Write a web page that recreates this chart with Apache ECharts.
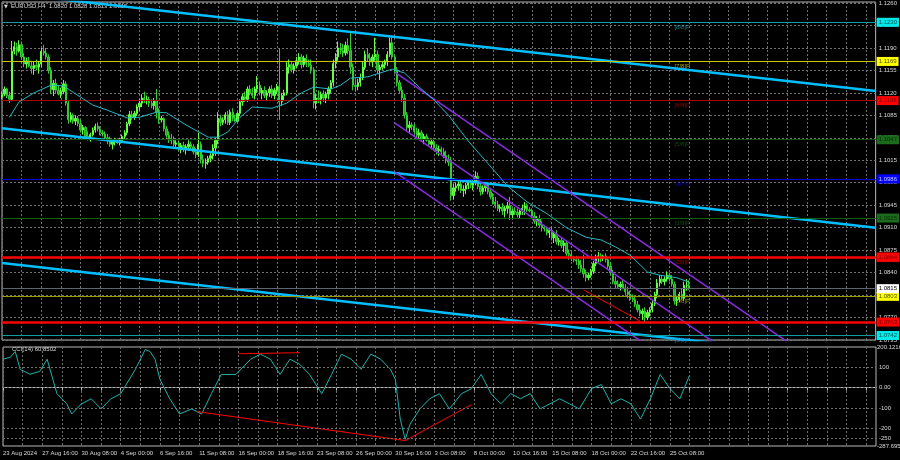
<!DOCTYPE html>
<html><head><meta charset="utf-8">
<script src="https://cdn.jsdelivr.net/npm/echarts@6/dist/echarts.min.js"></script>
<style>html,body{margin:0;padding:0;background:#000;}#c{width:900px;height:460px;}</style>
</head><body><div id="c"></div>
<script>
// ---- DATA ----
const tickLabels = ['23 Aug 2024','27 Aug 16:00','30 Aug 08:00','4 Sep 00:00','6 Sep 16:00','11 Sep 08:00','16 Sep 00:00','18 Sep 16:00','23 Sep 08:00','26 Sep 00:00','30 Sep 16:00','3 Oct 08:00','8 Oct 00:00','10 Oct 16:00','15 Oct 08:00','18 Oct 00:00','22 Oct 16:00','25 Oct 08:00'];
const slotCount = 357;
const openP = [
1.1113,1.1118,1.1126,1.1116,1.1110,1.1185,
1.1192,1.1185,1.1195,1.1176,1.1165,1.1170,
1.1162,1.1158,1.1163,1.1160,1.1165,1.1185,
1.1182,1.1176,1.1155,1.1125,1.1135,1.1124,
1.1118,1.1122,1.1134,1.1104,1.1078,1.1085,
1.1076,1.1080,1.1072,1.1062,1.1066,1.1052,
1.1048,1.1055,1.1062,1.1068,1.1064,1.1058,
1.1056,1.1050,1.1046,1.1040,1.1044,1.1045,
1.1042,1.1046,1.1052,1.1058,1.1072,1.1086,
1.1082,1.1088,1.1098,1.1104,1.1112,1.1108,
1.1110,1.1104,1.1100,1.1108,1.1090,1.1078,
1.1080,1.1064,1.1054,1.1048,1.1046,1.1040,
1.1042,1.1034,1.1038,1.1032,1.1036,1.1040,
1.1036,1.1028,1.1024,1.1040,1.1016,1.1010,
1.1012,1.1018,1.1022,1.1034,1.1046,1.1080,
1.1074,1.1078,1.1086,1.1074,1.1090,1.1080,
1.1076,1.1088,1.1106,1.1114,1.1110,1.1126,
1.1120,1.1116,1.1126,1.1132,1.1120,1.1124,
1.1116,1.1120,1.1126,1.1116,1.1124,1.1130,
1.1106,1.1116,1.1120,1.1160,1.1164,1.1156,
1.1162,1.1170,1.1176,1.1164,1.1174,1.1166,
1.1163,1.1156,1.1104,1.1112,1.1110,1.1118,
1.1112,1.1118,1.1126,1.1136,1.1166,1.1176,
1.1190,1.1186,1.1182,1.1194,1.1186,1.1160,
1.1132,1.1130,1.1136,1.1144,1.1160,1.1180,
1.1174,1.1168,1.1176,1.1180,1.1156,1.1160,
1.1164,1.1168,1.1180,1.1198,1.1176,1.1156,
1.1136,1.1124,1.1112,1.1086,1.1066,1.1070,
1.1068,1.1060,1.1054,1.1058,1.1048,1.1052,
1.1046,1.1040,1.1044,1.1034,1.1030,1.1032,
1.1028,1.1022,1.1016,1.1012,1.0960,1.0972,
1.0975,1.0978,1.0968,1.0970,1.0976,1.0980,
1.0976,1.0980,1.0990,1.0974,1.0966,1.0972,
1.0976,1.0966,1.0958,1.0950,1.0946,1.0940,
1.0942,1.0936,1.0940,1.0944,1.0930,1.0936,
1.0934,1.0930,1.0936,1.0940,1.0944,1.0938,
1.0936,1.0928,1.0920,1.0924,1.0914,1.0910,
1.0908,1.0902,1.0906,1.0894,1.0900,1.0888,
1.0890,1.0882,1.0886,1.0870,1.0868,1.0862,
1.0860,1.0858,1.0852,1.0846,1.0838,1.0832,
1.0836,1.0842,1.0854,1.0864,1.0866,1.0862,
1.0866,1.0860,1.0850,1.0840,1.0826,1.0822,
1.0818,1.0822,1.0816,1.0810,1.0806,1.0800,
1.0798,1.0790,1.0782,1.0776,1.0780,1.0770,
1.0778,1.0782,1.0792,1.0806,1.0824,1.0830,
1.0826,1.0830,1.0836,1.0830,1.0822,1.0796,
1.0798,1.0806,1.0800,1.0820,1.0820
];
const highP = [
1.1122,1.1130,1.1128,1.1122,1.1201,1.1200,
1.1198,1.1202,1.1200,1.1182,1.1175,1.1176,
1.1170,1.1168,1.1172,1.1168,1.1190,1.1195,
1.1190,1.1180,1.1160,1.1140,1.1142,1.1132,
1.1128,1.1140,1.1138,1.1108,1.1090,1.1088,
1.1085,1.1084,1.1078,1.1070,1.1068,1.1060,
1.1058,1.1066,1.1072,1.1074,1.1068,1.1062,
1.1060,1.1056,1.1052,1.1048,1.1050,1.1049,
1.1050,1.1055,1.1062,1.1075,1.1092,1.1092,
1.1092,1.1102,1.1110,1.1118,1.1122,1.1116,
1.1114,1.1110,1.1112,1.1126,1.1096,1.1084,
1.1082,1.1068,1.1060,1.1056,1.1052,1.1046,
1.1046,1.1042,1.1044,1.1040,1.1046,1.1044,
1.1040,1.1034,1.1058,1.1044,1.1024,1.1018,
1.1022,1.1026,1.1040,1.1050,1.1090,1.1086,
1.1082,1.1090,1.1092,1.1094,1.1096,1.1086,
1.1090,1.1110,1.1118,1.1122,1.1130,1.1132,
1.1128,1.1130,1.1146,1.1138,1.1128,1.1130,
1.1124,1.1130,1.1132,1.1128,1.1134,1.1189,
1.1120,1.1125,1.1168,1.1172,1.1170,1.1166,
1.1176,1.1182,1.1180,1.1178,1.1180,1.1172,
1.1172,1.1160,1.1118,1.1124,1.1122,1.1124,
1.1122,1.1130,1.1140,1.1172,1.1182,1.1200,
1.1198,1.1196,1.1200,1.1205,1.1214,1.1166,
1.1140,1.1142,1.1150,1.1168,1.1186,1.1190,
1.1182,1.1180,1.1206,1.1186,1.1164,1.1168,
1.1172,1.1185,1.1206,1.1209,1.1180,1.1160,
1.1140,1.1130,1.1118,1.1090,1.1076,1.1074,
1.1072,1.1066,1.1064,1.1062,1.1056,1.1056,
1.1050,1.1048,1.1050,1.1040,1.1038,1.1036,
1.1034,1.1030,1.1024,1.1020,1.0978,1.0980,
1.0982,1.0984,1.0976,1.0980,1.0984,1.0986,
1.0984,1.0998,1.0996,1.0980,1.0976,1.0980,
1.0980,1.0972,1.0964,1.0958,1.0952,1.0946,
1.0948,1.0944,1.0950,1.0958,1.0940,1.0942,
1.0940,1.0938,1.0946,1.0950,1.0948,1.0942,
1.0940,1.0934,1.0928,1.0930,1.0920,1.0914,
1.0912,1.0910,1.0912,1.0904,1.0906,1.0894,
1.0894,1.0890,1.0890,1.0876,1.0874,1.0866,
1.0866,1.0864,1.0860,1.0868,1.0844,1.0840,
1.0846,1.0858,1.0868,1.0872,1.0870,1.0868,
1.0870,1.0864,1.0856,1.0844,1.0834,1.0828,
1.0826,1.0830,1.0822,1.0818,1.0812,1.0806,
1.0802,1.0796,1.0790,1.0784,1.0786,1.0782,
1.0786,1.0796,1.0810,1.0830,1.0836,1.0836,
1.0834,1.0842,1.0840,1.0836,1.0826,1.0804,
1.0810,1.0816,1.0826,1.0830,1.0828
];
const lowP = [
1.1110,1.1115,1.1112,1.1104,1.1107,1.1180,
1.1178,1.1183,1.1172,1.1160,1.1158,1.1160,
1.1150,1.1148,1.1155,1.1150,1.1160,1.1178,
1.1172,1.1150,1.1118,1.1115,1.1120,1.1116,
1.1112,1.1118,1.1100,1.1072,1.1074,1.1072,
1.1070,1.1068,1.1058,1.1055,1.1048,1.1046,
1.1044,1.1052,1.1058,1.1060,1.1054,1.1052,
1.1046,1.1040,1.1036,1.1032,1.1038,1.1040,
1.1038,1.1042,1.1048,1.1054,1.1068,1.1078,
1.1078,1.1084,1.1092,1.1098,1.1104,1.1102,
1.1098,1.1096,1.1094,1.1080,1.1072,1.1074,
1.1060,1.1050,1.1042,1.1040,1.1036,1.1036,
1.1030,1.1026,1.1028,1.1024,1.1030,1.1032,
1.1024,1.1018,1.1020,1.1010,1.1004,1.1002,
1.1008,1.1012,1.1016,1.1022,1.1040,1.1068,
1.1070,1.1072,1.1070,1.1070,1.1076,1.1074,
1.1074,1.1084,1.1100,1.1106,1.1106,1.1116,
1.1112,1.1110,1.1120,1.1116,1.1110,1.1112,
1.1108,1.1114,1.1112,1.1110,1.1118,1.1078,
1.1100,1.1108,1.1116,1.1150,1.1152,1.1150,
1.1158,1.1164,1.1158,1.1160,1.1160,1.1160,
1.1150,1.1096,1.1094,1.1104,1.1102,1.1106,
1.1104,1.1110,1.1120,1.1130,1.1158,1.1170,
1.1180,1.1176,1.1178,1.1180,1.1150,1.1124,
1.1122,1.1124,1.1130,1.1140,1.1156,1.1168,
1.1162,1.1160,1.1170,1.1150,1.1140,1.1156,
1.1158,1.1162,1.1176,1.1172,1.1150,1.1130,
1.1120,1.1106,1.1080,1.1060,1.1058,1.1062,
1.1056,1.1050,1.1048,1.1044,1.1040,1.1044,
1.1036,1.1032,1.1030,1.1024,1.1022,1.1024,
1.1018,1.1010,1.1006,1.0952,1.0954,1.0966,
1.0968,1.0964,1.0958,1.0962,1.0970,1.0972,
1.0968,1.0976,1.0970,1.0960,1.0962,1.0966,
1.0962,1.0954,1.0946,1.0940,1.0936,1.0934,
1.0930,1.0926,1.0932,1.0922,1.0924,1.0930,
1.0926,1.0924,1.0930,1.0930,1.0934,1.0934,
1.0924,1.0916,1.0912,1.0910,1.0904,1.0904,
1.0898,1.0894,1.0890,1.0886,1.0884,1.0882,
1.0878,1.0872,1.0866,1.0860,1.0858,1.0856,
1.0852,1.0846,1.0840,1.0832,1.0826,1.0828,
1.0832,1.0838,1.0850,1.0856,1.0856,1.0858,
1.0856,1.0846,1.0836,1.0822,1.0816,1.0816,
1.0812,1.0814,1.0804,1.0800,1.0796,1.0794,
1.0786,1.0778,1.0772,1.0766,1.0762,1.0766,
1.0772,1.0778,1.0788,1.0800,1.0818,1.0822,
1.0820,1.0826,1.0826,1.0818,1.0790,1.0788,
1.0794,1.0798,1.0796,1.0812,1.0813
];
const closeP = [
1.1118,1.1126,1.1116,1.1110,1.1185,1.1192,
1.1185,1.1195,1.1176,1.1165,1.1170,1.1162,
1.1158,1.1163,1.1160,1.1165,1.1185,1.1182,
1.1176,1.1155,1.1125,1.1135,1.1124,1.1118,
1.1122,1.1134,1.1104,1.1078,1.1085,1.1076,
1.1080,1.1072,1.1062,1.1066,1.1052,1.1048,
1.1055,1.1062,1.1068,1.1064,1.1058,1.1056,
1.1050,1.1046,1.1040,1.1044,1.1045,1.1042,
1.1046,1.1052,1.1058,1.1072,1.1086,1.1082,
1.1088,1.1098,1.1104,1.1112,1.1108,1.1110,
1.1104,1.1100,1.1108,1.1090,1.1078,1.1080,
1.1064,1.1054,1.1048,1.1046,1.1040,1.1042,
1.1034,1.1038,1.1032,1.1036,1.1040,1.1036,
1.1028,1.1024,1.1040,1.1016,1.1010,1.1012,
1.1018,1.1022,1.1034,1.1046,1.1080,1.1074,
1.1078,1.1086,1.1074,1.1090,1.1080,1.1076,
1.1088,1.1106,1.1114,1.1110,1.1126,1.1120,
1.1116,1.1126,1.1132,1.1120,1.1124,1.1116,
1.1120,1.1126,1.1116,1.1124,1.1130,1.1106,
1.1116,1.1120,1.1160,1.1164,1.1156,1.1162,
1.1170,1.1176,1.1164,1.1174,1.1166,1.1163,
1.1156,1.1104,1.1112,1.1110,1.1118,1.1112,
1.1118,1.1126,1.1136,1.1166,1.1176,1.1190,
1.1186,1.1182,1.1194,1.1186,1.1160,1.1132,
1.1130,1.1136,1.1144,1.1160,1.1180,1.1174,
1.1168,1.1176,1.1180,1.1156,1.1160,1.1164,
1.1168,1.1180,1.1198,1.1176,1.1156,1.1136,
1.1124,1.1112,1.1086,1.1066,1.1070,1.1068,
1.1060,1.1054,1.1058,1.1048,1.1052,1.1046,
1.1040,1.1044,1.1034,1.1030,1.1032,1.1028,
1.1022,1.1016,1.1012,1.0960,1.0972,1.0975,
1.0978,1.0968,1.0970,1.0976,1.0980,1.0976,
1.0980,1.0990,1.0974,1.0966,1.0972,1.0976,
1.0966,1.0958,1.0950,1.0946,1.0940,1.0942,
1.0936,1.0940,1.0944,1.0930,1.0936,1.0934,
1.0930,1.0936,1.0940,1.0944,1.0938,1.0936,
1.0928,1.0920,1.0924,1.0914,1.0910,1.0908,
1.0902,1.0906,1.0894,1.0900,1.0888,1.0890,
1.0882,1.0886,1.0870,1.0868,1.0862,1.0860,
1.0858,1.0852,1.0846,1.0838,1.0832,1.0836,
1.0842,1.0854,1.0864,1.0866,1.0862,1.0866,
1.0860,1.0850,1.0840,1.0826,1.0822,1.0818,
1.0822,1.0816,1.0810,1.0806,1.0800,1.0798,
1.0790,1.0782,1.0776,1.0780,1.0770,1.0778,
1.0782,1.0792,1.0806,1.0824,1.0830,1.0826,
1.0830,1.0836,1.0830,1.0822,1.0796,1.0798,
1.0806,1.0800,1.0820,1.0820,1.0815
];
// moving average: [bar index, price]
const maPoints = [[3,1.1082],[7,1.1106],[13,1.1120],[20,1.1132],[25,1.1131],[29,1.1121],[37,1.1101],[43,1.1093],[51,1.1081],[56,1.1082],[63,1.1090],[67,1.1089],[75,1.1070],[84,1.1051],[88,1.1051],[92,1.1059],[97,1.1082],[102,1.1098],[110,1.1096],[116,1.1104],[122,1.1120],[127,1.1129],[134,1.1126],[138,1.1132],[142,1.1143],[149,1.1145],[154,1.1151],[159,1.1157],[164,1.1151],[170,1.1129],[176,1.1109],[182,1.1085],[190,1.1045],[198,1.1010],[206,1.0975],[214,1.0950],[222,1.0932],[230,1.0910],[238,1.0895],[244,1.0891],[250,1.0880],[256,1.0867],[263,1.0841],[268,1.0836],[275,1.0832],[280,1.0825]];
// CCI(14): [bar index, value]
const cciPoints = [[0,140],[3,150],[5,178],[7,90],[11,66],[15,80],[18,140],[22,-30],[26,-80],[28,-130],[32,-80],[36,-55],[40,-105],[44,-55],[48,-30],[54,90],[58,188],[60,178],[62,140],[64,40],[68,-55],[72,-130],[77,-105],[81,-130],[85,-30],[89,65],[95,65],[101,140],[105,165],[109,140],[113,65],[117,140],[121,115],[125,65],[130,-30],[134,65],[138,165],[142,140],[146,90],[150,165],[154,140],[158,90],[160,40],[162,-155],[164,-255],[166,-180],[170,-105],[174,-55],[178,-30],[182,-105],[187,-30],[191,-5],[195,65],[199,-30],[203,-80],[207,-30],[211,-55],[215,-30],[219,-105],[223,-80],[227,-55],[231,-80],[235,-105],[240,-5],[244,15],[248,-80],[252,-55],[256,-80],[260,-155],[264,-55],[268,65],[272,-5],[276,-55],[280,60.85]];
const cciLevels = [100, 0, -100, -200, -250];
const cciRange = [-287.695, 200.1216];
// price axis
const priceMin = 1.0735, priceStep = 0.0035, priceTop = 1.12616;
// Murrey levels
const murreyPrices = [1.1230, 1.1169, 1.1108, 1.1047, 1.0986, 1.0925, 1.0864, 1.0803, 1.0742];
const murreyNames = ['[8/8]P','[7/8]P','[6/8]P','[5/8]P','[4/8]P','[3/8]P','[2/8]P','[1/8]P','[0/8]P'];
const murreyTextBar = 274;
const supportPrices = [1.0864, 1.0763];
const bidPrice = 1.0815;
// trend lines: [bar index, price]
const trendTop = [[0,1.1276],[356,1.1123]];
const trendMid = [[0,1.1065],[356,1.0910]];
const trendLow = [[0,1.0855],[356,1.0702]];
const chanUpper = [[160,1.11525],[330,1.07059]];
const chanMiddle = [[160,1.10731],[330,1.06265]];
const chanLower = [[160,1.09968],[330,1.05502]];
const redPriceLine = [[237,1.0813],[260,1.07645]];
const cciRedLines = [[[79,-118],[164,-261]],[[164,-261],[191,-84]],[[96,167],[121,172]]];
const header = 'EURUSD,H4  1.0820 1.0828 1.0813 1.0815';
const cciHeader = 'CCI(14) 60.8502';

// ---- STYLE ----
const FONT = 'Liberation Sans';
const FS = 6;
const TXT = '#d8d8d8';
const GRIDC = '#707070';
const murreyLineColors = ['#139c9c','#c8c800','#b00000','#0f4f0f','#0000d8','#0f5f0f','#b00000','#9a9a00','#139c9c'];
const murreyTextColors = ['#139c9c','#c8c800','#b00000','#145a14','#0000d8','#145a14','#c00000','#a8a800','#1a8cc0'];
const murreyBoxBg = ['#00e8e8','#ffff00','#ff0000','#1c6a1c','#0000ff','#1c6a1c','#ff0000','#ffff00','#00e8e8'];
const murreyBoxFg = ['#005050','#505000','#700000','#0a300a','#c8c8ff','#0a300a','#700000','#505000','#005050'];

const cats = Array.from({length: slotCount}, (_, i) => String(i));
const candleData = closeP.map((c, i) => [openP[i], c, lowP[i], highP[i]]);

function boxLabel(text, bg, fg) {
  return {show: true, position: 'end', distance: 1, formatter: text, backgroundColor: bg, color: fg,
    fontSize: FS, fontFamily: FONT, padding: [1, 2, 0, 2], lineHeight: 8};
}
const priceMarks = [];
murreyPrices.forEach((p, i) => {
  priceMarks.push({yAxis: p, lineStyle: {color: murreyLineColors[i], width: 1, type: 'solid'},
    label: boxLabel(p.toFixed(4), murreyBoxBg[i], murreyBoxFg[i])});
});
priceMarks.push({yAxis: bidPrice, lineStyle: {color: '#5c666c', width: 1, type: 'solid'}, label: boxLabel(bidPrice.toFixed(4), '#ffffff', '#000000')});
supportPrices.forEach(p => {
  priceMarks.push({yAxis: p, lineStyle: {color: '#ff0000', width: 2.5, type: 'solid'}, label: boxLabel(p.toFixed(4), '#ff0000', '#700000')});
});

const cciMarks = cciLevels.map(v => ({yAxis: v, lineStyle: {color: GRIDC, width: 1, type: [2, 2]},
  label: {show: true, position: 'end', distance: 3, formatter: v === 0 ? '0.00' : String(v), color: TXT, fontSize: FS, fontFamily: FONT}}));
cciRange.forEach(v => cciMarks.push({yAxis: v, lineStyle: {color: 'rgba(0,0,0,0)', width: 0},
  label: {show: true, position: 'end', distance: 1, formatter: String(v), color: TXT, fontSize: FS, fontFamily: FONT}}));

function seg(data, color, width, xi, yi) {
  return {type: 'line', data: data, xAxisIndex: xi || 0, yAxisIndex: yi || 0, showSymbol: false, symbol: 'none',
    silent: true, clip: true, lineStyle: {color: color, width: width}, z: 4};
}
function onGrid(v) {
  const k = (v - priceMin) / priceStep;
  return Math.abs(k - Math.round(k)) < 1e-6;
}

const chart = echarts.init(document.getElementById('c'));
const option = {
  backgroundColor: '#000000',
  animation: false,
  grid: [
    {left: 2, top: 2, width: 874, height: 338, show: true, borderColor: '#b8b8b8', borderWidth: 1},
    {left: 2, top: 347, width: 874, height: 99, show: true, borderColor: '#b8b8b8', borderWidth: 1}
  ],
  xAxis: [
    {type: 'category', gridIndex: 0, data: cats, boundaryGap: false,
      axisLine: {show: false}, axisTick: {show: false}, axisLabel: {show: false},
      splitLine: {show: true, interval: (i) => i % 8 === 0, lineStyle: {color: GRIDC, type: [2, 2], width: 1}}},
    {type: 'category', gridIndex: 1, data: cats, boundaryGap: false,
      axisLine: {show: true, lineStyle: {color: '#b8b8b8'}},
      axisTick: {show: true, interval: (i) => i % 8 === 0, length: 3, lineStyle: {color: '#b8b8b8'}},
      axisLabel: {show: true, interval: (i) => i % 16 === 0, align: 'left', margin: 4,
        formatter: (v, i) => (i % 16 === 0 && tickLabels[i / 16]) ? tickLabels[i / 16] : '',
        color: TXT, fontSize: FS, fontFamily: FONT},
      splitLine: {show: true, interval: (i) => i % 8 === 0, lineStyle: {color: GRIDC, type: [2, 2], width: 1}}}
  ],
  yAxis: [
    {type: 'value', gridIndex: 0, position: 'right', min: priceMin, max: priceTop, interval: priceStep,
      axisLine: {show: false}, axisTick: {show: false},
      axisLabel: {color: TXT, fontSize: FS, fontFamily: FONT, margin: 3, formatter: v => onGrid(v) ? v.toFixed(4) : ''},
      splitLine: {show: true, lineStyle: {color: GRIDC, type: [2, 2], width: 1}}},
    {type: 'value', gridIndex: 1, position: 'right', min: cciRange[0], max: cciRange[1],
      axisLine: {show: false}, axisTick: {show: false}, axisLabel: {show: false}, splitLine: {show: false}}
  ],
  series: [
    {type: 'candlestick', xAxisIndex: 0, yAxisIndex: 0, data: candleData, barWidth: 1.8, z: 3,
      itemStyle: {color: '#44f044', color0: '#22a822', borderColor: '#66ff44', borderColor0: '#33cc33', borderWidth: 1}},
    Object.assign(seg(maPoints, '#26b7c4', 1), {z: 5,
      markLine: {silent: true, symbol: ['none', 'none'], animation: false, precision: 5, data: priceMarks}}),
    seg(trendTop, '#00bfff', 2.5), seg(trendMid, '#00bfff', 2.5), seg(trendLow, '#00bfff', 2.5),
    seg(chanUpper, '#8a2be2', 1.5), seg(chanMiddle, '#8a2be2', 1.5), seg(chanLower, '#8a2be2', 1.5),
    seg(redPriceLine, '#ff0000', 1),
    {type: 'scatter', xAxisIndex: 0, yAxisIndex: 0, symbolSize: 0, silent: true, z: 6,
      data: murreyPrices.map((p, i) => ({value: [murreyTextBar, p], name: murreyNames[i],
        label: {color: murreyTextColors[i]}})),
      label: {show: true, position: [0, 2], formatter: (d) => d.name, fontSize: FS, fontFamily: FONT}},
    {type: 'line', xAxisIndex: 1, yAxisIndex: 1, data: cciPoints, showSymbol: false, symbol: 'none', silent: true,
      lineStyle: {color: '#20b2aa', width: 1}, z: 4,
      markLine: {silent: true, symbol: ['none', 'none'], animation: false, precision: 4, data: cciMarks}},
    ...cciRedLines.map(l => seg(l, '#ff0000', 1, 1, 1))
  ],
  graphic: [
    {type: 'text', left: 4, top: 4, style: {text: '▼', fill: TXT, fontSize: 5, fontFamily: 'DejaVu Sans'}},
    {type: 'text', left: 11, top: 3, style: {text: header, fill: TXT, fontSize: FS, fontFamily: FONT}},
    {type: 'text', left: 12, top: 346, style: {text: cciHeader, fill: TXT, fontSize: FS, fontFamily: FONT}}
  ]
};
chart.setOption(option);
</script>
</body></html>
